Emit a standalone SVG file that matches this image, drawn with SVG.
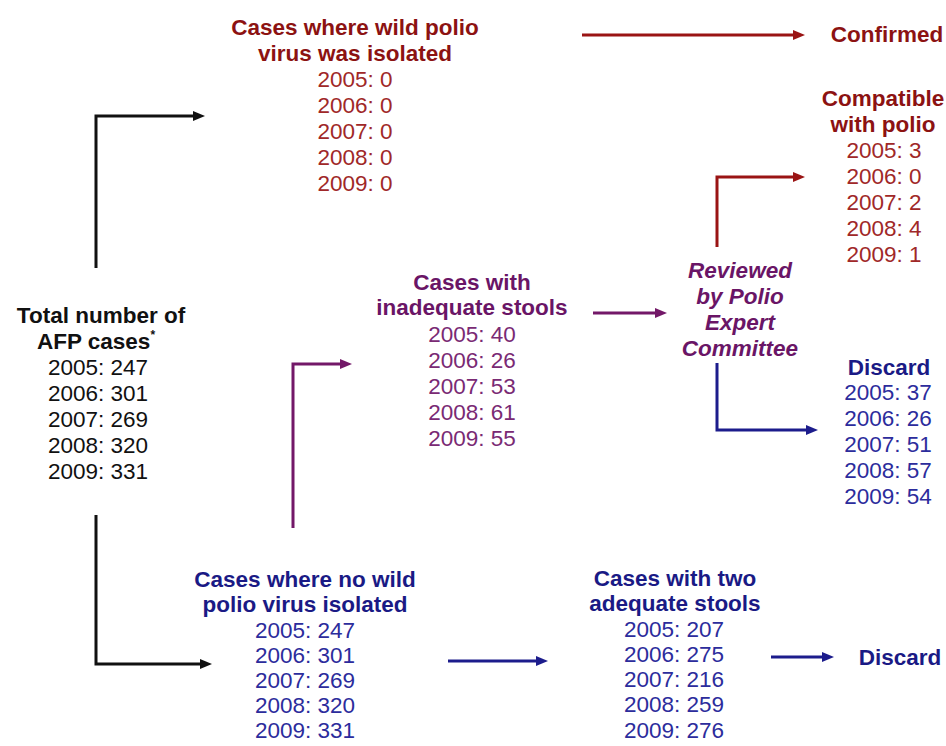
<svg xmlns="http://www.w3.org/2000/svg" width="946" height="746" viewBox="0 0 946 746">
<style>
text{font-family:"Liberation Sans",Arial,sans-serif;font-size:22.5px;text-anchor:middle}
.b{font-weight:bold}
.i{font-style:italic}
.k{fill:#111}
.rt{fill:#8c1212}.rd{fill:#a02828}
.pt{fill:#6a1566}.pd{fill:#7a2a74}
.bt{fill:#1a1a85}.bd{fill:#2c2c9c}
.ln{fill:none;stroke-width:3;stroke-linejoin:miter}
</style>
<defs>
<marker id="mk" markerUnits="userSpaceOnUse" viewBox="0 0 12 10" refX="2" refY="5" markerWidth="12" markerHeight="10" orient="auto"><path d="M0,0L12,5L0,10z" fill="#111"/></marker>
<marker id="mr" markerUnits="userSpaceOnUse" viewBox="0 0 12 10" refX="2" refY="5" markerWidth="12" markerHeight="10" orient="auto"><path d="M0,0L12,5L0,10z" fill="#9a1414"/></marker>
<marker id="mp" markerUnits="userSpaceOnUse" viewBox="0 0 12 10" refX="2" refY="5" markerWidth="12" markerHeight="10" orient="auto"><path d="M0,0L12,5L0,10z" fill="#731868"/></marker>
<marker id="mb" markerUnits="userSpaceOnUse" viewBox="0 0 12 10" refX="2" refY="5" markerWidth="12" markerHeight="10" orient="auto"><path d="M0,0L12,5L0,10z" fill="#1c1c8c"/></marker>
</defs>
<rect width="946" height="746" fill="#fff"/>
<g id="connectors">
<path class="ln" stroke="#111" d="M96,268V116H195" marker-end="url(#mk)"/>
<path class="ln" stroke="#111" d="M96,515V664H202" marker-end="url(#mk)"/>
<path class="ln" stroke="#731868" d="M293,528V364H342" marker-end="url(#mp)"/>
<path class="ln" stroke="#731868" d="M593,313H657" marker-end="url(#mp)"/>
<path class="ln" stroke="#9a1414" d="M582,35H795" marker-end="url(#mr)"/>
<path class="ln" stroke="#9a1414" d="M717,247V177H795" marker-end="url(#mr)"/>
<path class="ln" stroke="#1c1c8c" d="M717,363V430H808" marker-end="url(#mb)"/>
<path class="ln" stroke="#1c1c8c" d="M448,661H538" marker-end="url(#mb)"/>
<path class="ln" stroke="#1c1c8c" d="M771,657H824" marker-end="url(#mb)"/>
</g>
<g id="total">
<text x="101" y="323" class="b k">Total number of</text>
<text x="96" y="349" class="b k">AFP cases<tspan font-size="12" dy="-10">*</tspan></text>
<text x="98" y="375" class="k">2005: 247</text>
<text x="98" y="401" class="k">2006: 301</text>
<text x="98" y="427" class="k">2007: 269</text>
<text x="98" y="453" class="k">2008: 320</text>
<text x="98" y="479" class="k">2009: 331</text>
</g>
<g id="wild">
<text x="355" y="35" class="b rt">Cases where wild polio</text>
<text x="355" y="61" class="b rt">virus was isolated</text>
<text x="355" y="87" class="rd">2005: 0</text>
<text x="355" y="113" class="rd">2006: 0</text>
<text x="355" y="139" class="rd">2007: 0</text>
<text x="355" y="165" class="rd">2008: 0</text>
<text x="355" y="191" class="rd">2009: 0</text>
</g>
<g id="confirmed">
<text x="887" y="42" class="b rt">Confirmed</text>
</g>
<g id="compatible">
<text x="883" y="106" class="b rt">Compatible</text>
<text x="883" y="132" class="b rt">with polio</text>
<text x="884" y="158" class="rd">2005: 3</text>
<text x="884" y="184" class="rd">2006: 0</text>
<text x="884" y="210" class="rd">2007: 2</text>
<text x="884" y="236" class="rd">2008: 4</text>
<text x="884" y="262" class="rd">2009: 1</text>
</g>
<g id="inadequate">
<text x="472" y="290" class="b pt">Cases with</text>
<text x="472" y="315" class="b pt">inadequate stools</text>
<text x="472" y="342" class="pd">2005: 40</text>
<text x="472" y="368" class="pd">2006: 26</text>
<text x="472" y="394" class="pd">2007: 53</text>
<text x="472" y="420" class="pd">2008: 61</text>
<text x="472" y="446" class="pd">2009: 55</text>
</g>
<g id="reviewed">
<text x="740" y="278" class="b i pt">Reviewed</text>
<text x="740" y="304" class="b i pt">by Polio</text>
<text x="740" y="330" class="b i pt">Expert</text>
<text x="740" y="356" class="b i pt">Committee</text>
</g>
<g id="discard-review">
<text x="889" y="375" class="b bt">Discard</text>
<text x="888" y="400" class="bd">2005: 37</text>
<text x="888" y="426" class="bd">2006: 26</text>
<text x="888" y="452" class="bd">2007: 51</text>
<text x="888" y="478" class="bd">2008: 57</text>
<text x="888" y="504" class="bd">2009: 54</text>
</g>
<g id="nowild">
<text x="305" y="587" class="b bt">Cases where no wild</text>
<text x="305" y="612" class="b bt">polio virus isolated</text>
<text x="305" y="638" class="bd">2005: 247</text>
<text x="305" y="663" class="bd">2006: 301</text>
<text x="305" y="688" class="bd">2007: 269</text>
<text x="305" y="713" class="bd">2008: 320</text>
<text x="305" y="738" class="bd">2009: 331</text>
</g>
<g id="adequate">
<text x="675" y="586" class="b bt">Cases with two</text>
<text x="675" y="611" class="b bt">adequate stools</text>
<text x="674" y="637" class="bd">2005: 207</text>
<text x="674" y="662" class="bd">2006: 275</text>
<text x="674" y="687" class="bd">2007: 216</text>
<text x="674" y="712" class="bd">2008: 259</text>
<text x="674" y="738" class="bd">2009: 276</text>
</g>
<g id="discard-final">
<text x="900" y="665" class="b bt">Discard</text>
</g>
</svg>
